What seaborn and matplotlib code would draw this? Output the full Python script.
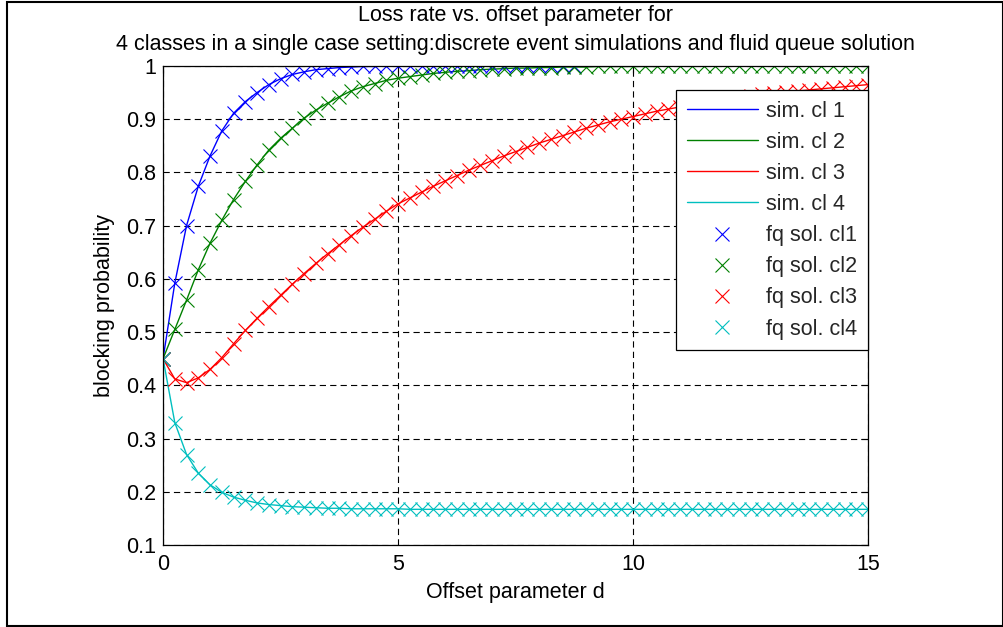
import numpy as np
import pandas as pd
import matplotlib
matplotlib.use("Agg")
import matplotlib.pyplot as plt
from matplotlib.patches import Rectangle
import seaborn as sns

# Offset parameter grid
offsets = np.arange(0, 15.001, 0.25)

# Blocking probability per class (class 1 is only available up to d = 8.75)
cl1 = [0.450, 0.592, 0.700, 0.774, 0.831, 0.878, 0.911, 0.933, 0.950, 0.965,
       0.976, 0.984, 0.989, 0.993, 0.995, 0.997, 0.998, 0.999, 0.999, 1.000,
       1.000, 1.000, 1.000, 1.000, 1.000, 1.000, 1.000, 1.000, 1.000, 1.000,
       1.000, 1.000, 1.000, 1.000, 1.000, 1.000]
cl2 = [0.450, 0.505, 0.560, 0.617, 0.667, 0.710, 0.749, 0.783, 0.814, 0.842,
       0.864, 0.883, 0.902, 0.917, 0.930, 0.942, 0.953, 0.961, 0.967, 0.973,
       0.977, 0.980, 0.983, 0.986, 0.988, 0.990, 0.991, 0.993, 0.994, 0.995,
       0.996, 0.996, 0.997, 0.997, 0.998, 0.998, 0.998, 0.999, 0.999, 0.999,
       0.999, 0.999, 0.999, 1.000, 1.000, 1.000, 1.000, 1.000, 1.000, 1.000,
       1.000, 1.000, 1.000, 1.000, 1.000, 1.000, 1.000, 1.000, 1.000, 1.000,
       1.000]
cl3 = [0.450, 0.412, 0.405, 0.414, 0.430, 0.452, 0.478, 0.503, 0.526, 0.548,
       0.569, 0.590, 0.610, 0.629, 0.647, 0.664, 0.681, 0.697, 0.712, 0.727,
       0.741, 0.752, 0.763, 0.774, 0.784, 0.794, 0.804, 0.813, 0.822, 0.831,
       0.839, 0.847, 0.855, 0.862, 0.869, 0.876, 0.883, 0.889, 0.895, 0.900,
       0.905, 0.910, 0.915, 0.919, 0.923, 0.927, 0.931, 0.934, 0.938, 0.941,
       0.944, 0.947, 0.949, 0.951, 0.953, 0.955, 0.957, 0.959, 0.961, 0.963,
       0.965]
cl4 = [0.450, 0.330, 0.270, 0.235, 0.213, 0.199, 0.190, 0.184, 0.179, 0.176,
       0.174, 0.172, 0.171, 0.170, 0.169, 0.169, 0.168, 0.168, 0.168, 0.168,
       0.168, 0.167, 0.167, 0.167, 0.167, 0.167, 0.167, 0.167, 0.167, 0.167,
       0.167, 0.167, 0.167, 0.167, 0.167, 0.167, 0.167, 0.167, 0.167, 0.167,
       0.167, 0.167, 0.167, 0.167, 0.167, 0.167, 0.167, 0.167, 0.167, 0.167,
       0.167, 0.167, 0.167, 0.167, 0.167, 0.167, 0.167, 0.167, 0.167, 0.167,
       0.167]

classes = ["1", "2", "3", "4"]
series = [cl1, cl2, cl3, cl4]
sim_labels = ["sim. cl 1", "sim. cl 2", "sim. cl 3", "sim. cl 4"]
fq_labels = ["fq sol. cl1", "fq sol. cl2", "fq sol. cl3", "fq sol. cl4"]
colors = ["#0000ff", "#008000", "#ff0000", "#00bfbf"]

x_ticks = [0, 5, 10, 15]
x_ticklabels = ["0", "5", "10", "15"]
y_ticks = [0.1, 0.2, 0.3, 0.4, 0.5, 0.6, 0.7, 0.8, 0.9, 1.0]
y_ticklabels = ["0.1", "0.2", "0.3", "0.4", "0.5", "0.6", "0.7", "0.8", "0.9", "1"]

frames = []
for c, vals in zip(classes, series):
    frames.append(pd.DataFrame({"d": offsets[:len(vals)], "p": vals, "cls": c}))
df = pd.concat(frames, ignore_index=True)

sns.set_theme(style="white")
plt.rcParams["font.family"] = ["Liberation Sans", "DejaVu Sans"]
plt.rcParams["lines.scale_dashes"] = False

FS = 15.5

fig = plt.figure(figsize=(10.04, 6.27), dpi=100)
ax = fig.add_axes([0.1624, 0.1308, 0.7022, 0.7640])

# simulation curves
for c, col in zip(classes, colors):
    sns.lineplot(data=df[df["cls"] == c], x="d", y="p", color=col,
                 linewidth=1.0, estimator=None, sort=False, legend=False, ax=ax)

# fluid queue solution markers
for c, col in zip(classes, colors):
    sns.lineplot(data=df[df["cls"] == c], x="d", y="p", color=col,
                 linestyle="", marker="x", markersize=10,
                 markeredgewidth=0.8, markeredgecolor=col,
                 estimator=None, sort=False, legend=False, ax=ax)

ax.set_xlim(0, 15)
ax.set_ylim(0.1, 1.0)
ax.set_xticks(x_ticks)
ax.set_xticklabels(x_ticklabels)
ax.set_yticks(y_ticks)
ax.set_yticklabels(y_ticklabels)
ax.tick_params(direction="in", length=5, width=0.8, colors="black",
               labelsize=FS, top=True, right=True)
ax.tick_params(axis="x", pad=6.5)
ax.tick_params(axis="y", pad=5)
ax.grid(True, color="black", linestyle=(0, (4.5, 3.0)), linewidth=0.8)
ax.set_axisbelow(True)
for s in ax.spines.values():
    s.set_color("black")
    s.set_linewidth(0.9)

ax.set_xlabel("Offset parameter d", fontsize=FS, labelpad=5, color="black")
ax.set_ylabel("blocking probability", fontsize=FS, labelpad=8, color="black")
ax.set_title("Loss rate vs. offset parameter for\n"
             "4 classes in a single case setting:discrete event simulations and fluid queue solution",
             fontsize=FS, pad=11.5, linespacing=1.5, color="black")

handles = list(ax.lines)
leg = ax.legend(handles, sim_labels + fq_labels, loc="upper right",
                bbox_to_anchor=(1.0, 0.95), borderaxespad=0, fontsize=FS,
                handlelength=3.3, handletextpad=0.4, labelspacing=0.47,
                borderpad=0.5, fancybox=False, framealpha=1, edgecolor="black")
leg.get_frame().set_linewidth(0.9)

# outer frame around the figure
fig.patches.append(Rectangle((0.0073, 0.002), 0.9915, 0.995, transform=fig.transFigure,
                             fill=False, edgecolor="black", linewidth=1.5))

fig.savefig("out.png", dpi=100)
